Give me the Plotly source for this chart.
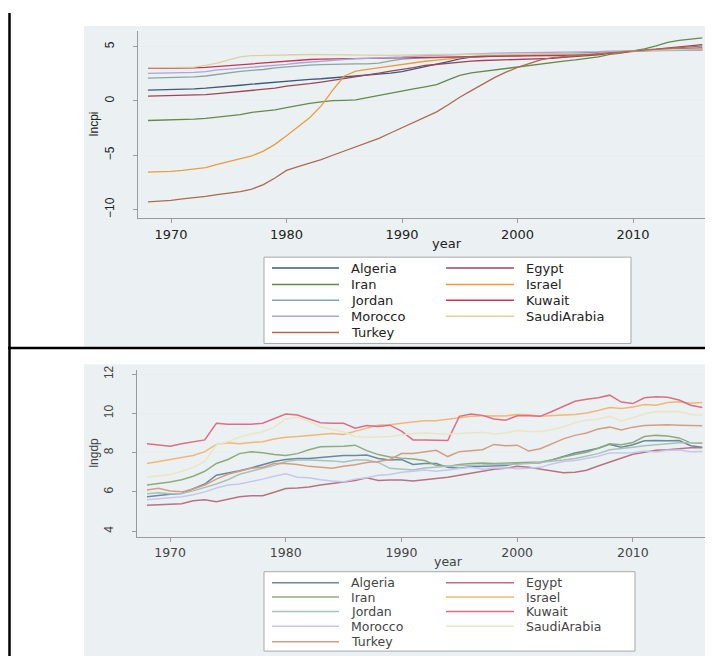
import plotly.graph_objects as go

# ---------------- data ----------------
years = list(range(1968, 2017))
countries = ["Algeria", "Egypt", "Iran", "Israel", "Jordan", "Kuwait",
             "Morocco", "SaudiArabia", "Turkey"]
x_ticks = [1970, 1980, 1990, 2000, 2010]
cpi_ticks = [-10, -5, 0, 5]
gdp_ticks = [4, 6, 8, 10, 12]

# lncpi (top panel), 1968..2016
cpi_algeria = [1.00, 1.02, 1.05, 1.08, 1.12, 1.18, 1.25, 1.35, 1.45, 1.55, 1.65, 1.75, 1.83, 1.93, 1.99, 2.05, 2.13, 2.22, 2.34, 2.41, 2.47, 2.56, 2.71, 2.93, 3.19, 3.38, 3.63, 3.88, 4.04, 4.09, 4.14, 4.17, 4.17, 4.21, 4.23, 4.28, 4.31, 4.33, 4.35, 4.39, 4.43, 4.54, 4.61, 4.65, 4.73, 4.76, 4.79, 4.84, 4.90]
cpi_egypt = [0.45, 0.47, 0.50, 0.52, 0.54, 0.58, 0.67, 0.76, 0.86, 0.98, 1.08, 1.18, 1.36, 1.45, 1.59, 1.74, 1.90, 2.01, 2.21, 2.40, 2.56, 2.75, 2.90, 3.08, 3.27, 3.39, 3.46, 3.61, 3.68, 3.73, 3.77, 3.80, 3.83, 3.85, 3.88, 3.92, 4.03, 4.08, 4.15, 4.24, 4.41, 4.52, 4.61, 4.70, 4.77, 4.86, 4.96, 5.06, 5.19]
cpi_iran = [-1.80, -1.78, -1.76, -1.73, -1.68, -1.60, -1.48, -1.38, -1.25, -1.05, -0.95, -0.82, -0.62, -0.40, -0.22, -0.08, 0.03, 0.06, 0.10, 0.30, 0.52, 0.75, 0.95, 1.12, 1.30, 1.50, 1.95, 2.35, 2.58, 2.72, 2.88, 3.02, 3.15, 3.26, 3.40, 3.54, 3.68, 3.79, 3.90, 4.07, 4.30, 4.40, 4.61, 4.80, 5.07, 5.40, 5.58, 5.72, 5.82]
cpi_israel = [-6.55, -6.53, -6.48, -6.40, -6.30, -6.15, -5.85, -5.60, -5.35, -5.05, -4.62, -4.00, -3.20, -2.35, -1.55, -0.45, 1.00, 2.30, 2.75, 2.92, 3.07, 3.25, 3.40, 3.55, 3.66, 3.77, 3.89, 3.98, 4.08, 4.16, 4.21, 4.26, 4.27, 4.28, 4.34, 4.33, 4.32, 4.34, 4.36, 4.36, 4.41, 4.49, 4.61, 4.64, 4.66, 4.68, 4.68, 4.67, 4.67]
cpi_jordan = [2.10, 2.12, 2.15, 2.18, 2.22, 2.30, 2.45, 2.60, 2.72, 2.82, 2.90, 3.05, 3.15, 3.23, 3.30, 3.35, 3.39, 3.42, 3.42, 3.42, 3.48, 3.70, 3.85, 3.93, 3.97, 4.00, 4.04, 4.06, 4.12, 4.15, 4.18, 4.19, 4.19, 4.21, 4.23, 4.25, 4.28, 4.31, 4.37, 4.42, 4.55, 4.54, 4.61, 4.65, 4.70, 4.75, 4.78, 4.77, 4.76]
cpi_kuwait = [3.00, 3.00, 3.01, 3.03, 3.05, 3.10, 3.18, 3.27, 3.35, 3.45, 3.55, 3.63, 3.70, 3.76, 3.82, 3.85, 3.87, 3.88, 3.89, 3.90, 3.92, 3.94, 3.95, 3.97, 3.99, 4.01, 4.03, 4.06, 4.09, 4.10, 4.11, 4.14, 4.15, 4.17, 4.18, 4.19, 4.20, 4.24, 4.27, 4.32, 4.42, 4.50, 4.61, 4.65, 4.68, 4.71, 4.74, 4.77, 4.80]
cpi_morocco = [2.55, 2.56, 2.57, 2.61, 2.64, 2.70, 2.86, 2.94, 3.02, 3.13, 3.22, 3.29, 3.38, 3.50, 3.59, 3.65, 3.76, 3.83, 3.91, 3.93, 3.95, 3.98, 4.05, 4.12, 4.17, 4.22, 4.27, 4.33, 4.36, 4.37, 4.40, 4.41, 4.43, 4.43, 4.46, 4.47, 4.48, 4.49, 4.52, 4.54, 4.58, 4.59, 4.61, 4.62, 4.63, 4.65, 4.65, 4.67, 4.69]
cpi_saudi = [3.05, 3.06, 3.06, 3.09, 3.12, 3.28, 3.48, 3.78, 4.07, 4.17, 4.20, 4.22, 4.25, 4.27, 4.28, 4.27, 4.25, 4.22, 4.20, 4.18, 4.19, 4.20, 4.22, 4.27, 4.27, 4.28, 4.29, 4.34, 4.35, 4.35, 4.35, 4.34, 4.33, 4.32, 4.32, 4.32, 4.33, 4.34, 4.36, 4.40, 4.49, 4.54, 4.61, 4.66, 4.69, 4.73, 4.75, 4.77, 4.80]
cpi_turkey = [-9.30, -9.24, -9.15, -9.02, -8.92, -8.78, -8.62, -8.50, -8.35, -8.12, -7.70, -7.10, -6.40, -6.05, -5.75, -5.40, -5.00, -4.60, -4.20, -3.85, -3.45, -2.95, -2.45, -1.95, -1.50, -1.00, -0.35, 0.35, 0.95, 1.55, 2.15, 2.65, 3.10, 3.45, 3.78, 4.00, 4.10, 4.19, 4.28, 4.36, 4.46, 4.52, 4.61, 4.67, 4.76, 4.83, 4.91, 4.99, 5.07]

# lngdp (bottom panel), 1968..2016
gdp_algeria = [5.75, 5.82, 5.88, 5.92, 6.15, 6.40, 6.85, 6.95, 7.08, 7.22, 7.38, 7.55, 7.65, 7.70, 7.70, 7.75, 7.80, 7.85, 7.85, 7.88, 7.70, 7.62, 7.65, 7.40, 7.45, 7.45, 7.25, 7.20, 7.28, 7.30, 7.32, 7.35, 7.45, 7.45, 7.48, 7.63, 7.82, 7.98, 8.10, 8.22, 8.42, 8.28, 8.40, 8.60, 8.62, 8.60, 8.62, 8.35, 8.28]
gdp_egypt = [5.32, 5.35, 5.38, 5.40, 5.55, 5.60, 5.50, 5.62, 5.75, 5.80, 5.80, 5.98, 6.17, 6.20, 6.25, 6.35, 6.42, 6.50, 6.58, 6.72, 6.58, 6.60, 6.60, 6.55, 6.60, 6.68, 6.75, 6.85, 6.95, 7.08, 7.15, 7.20, 7.30, 7.25, 7.15, 7.05, 6.98, 7.00, 7.10, 7.32, 7.52, 7.72, 7.92, 8.02, 8.12, 8.15, 8.20, 8.25, 8.25]
gdp_iran = [6.35, 6.42, 6.50, 6.62, 6.80, 7.05, 7.45, 7.65, 7.95, 8.05, 8.00, 7.90, 7.85, 7.95, 8.15, 8.30, 8.30, 8.32, 8.38, 8.10, 7.90, 7.78, 7.72, 7.68, 7.60, 7.35, 7.30, 7.40, 7.45, 7.47, 7.45, 7.47, 7.48, 7.50, 7.52, 7.62, 7.78, 7.90, 8.02, 8.22, 8.45, 8.40, 8.52, 8.82, 8.88, 8.85, 8.75, 8.50, 8.48]
gdp_israel = [7.45, 7.55, 7.62, 7.72, 7.85, 8.05, 8.42, 8.50, 8.45, 8.52, 8.55, 8.70, 8.78, 8.82, 8.88, 8.95, 8.98, 8.92, 9.10, 9.25, 9.40, 9.42, 9.50, 9.57, 9.63, 9.62, 9.70, 9.80, 9.85, 9.88, 9.88, 9.87, 9.95, 9.93, 9.85, 9.87, 9.92, 9.95, 10.02, 10.15, 10.30, 10.25, 10.33, 10.45, 10.42, 10.55, 10.60, 10.52, 10.55]
gdp_jordan = [5.90, 5.95, 5.90, 5.92, 6.05, 6.22, 6.40, 6.62, 6.90, 7.05, 7.20, 7.35, 7.55, 7.62, 7.62, 7.60, 7.58, 7.52, 7.62, 7.62, 7.50, 7.20, 7.15, 7.12, 7.22, 7.25, 7.30, 7.35, 7.35, 7.37, 7.40, 7.40, 7.42, 7.45, 7.50, 7.55, 7.62, 7.70, 7.82, 7.95, 8.15, 8.20, 8.28, 8.35, 8.40, 8.45, 8.50, 8.50, 8.50]
gdp_kuwait = [8.45, 8.40, 8.33, 8.45, 8.55, 8.65, 9.50, 9.45, 9.45, 9.45, 9.50, 9.75, 9.97, 9.92, 9.70, 9.52, 9.50, 9.50, 9.25, 9.38, 9.33, 9.40, 9.10, 8.65, 8.65, 8.65, 8.62, 9.85, 9.97, 9.90, 9.72, 9.65, 9.88, 9.88, 9.85, 10.10, 10.38, 10.62, 10.72, 10.80, 10.93, 10.58, 10.50, 10.80, 10.85, 10.82, 10.68, 10.42, 10.30]
gdp_morocco = [5.60, 5.65, 5.70, 5.75, 5.85, 6.00, 6.20, 6.35, 6.40, 6.52, 6.65, 6.80, 6.92, 6.75, 6.72, 6.62, 6.55, 6.52, 6.65, 6.72, 6.85, 6.88, 7.00, 7.05, 7.12, 7.05, 7.12, 7.20, 7.25, 7.17, 7.22, 7.22, 7.18, 7.20, 7.25, 7.42, 7.55, 7.60, 7.70, 7.82, 7.98, 8.00, 8.00, 8.08, 8.03, 8.12, 8.13, 8.05, 8.06]
gdp_saudi = [6.75, 6.80, 6.88, 7.05, 7.25, 7.55, 8.40, 8.55, 8.80, 8.95, 9.05, 9.30, 9.72, 9.80, 9.60, 9.32, 9.18, 9.05, 8.82, 8.78, 8.80, 8.82, 8.90, 8.98, 9.00, 8.96, 8.94, 8.97, 9.02, 9.04, 8.95, 9.00, 9.13, 9.08, 9.08, 9.17, 9.32, 9.53, 9.65, 9.70, 9.85, 9.62, 9.78, 9.97, 10.10, 10.10, 10.10, 9.95, 9.90]
gdp_turkey = [6.10, 6.18, 6.05, 6.00, 6.15, 6.35, 6.65, 6.90, 7.05, 7.20, 7.25, 7.45, 7.45, 7.40, 7.30, 7.25, 7.20, 7.30, 7.38, 7.50, 7.55, 7.65, 7.95, 7.95, 8.02, 8.12, 7.80, 8.05, 8.10, 8.15, 8.42, 8.35, 8.38, 8.08, 8.20, 8.45, 8.70, 8.88, 9.00, 9.20, 9.30, 9.15, 9.30, 9.38, 9.40, 9.42, 9.40, 9.38, 9.37]

lncpi = {"Algeria": cpi_algeria, "Egypt": cpi_egypt, "Iran": cpi_iran,
         "Israel": cpi_israel, "Jordan": cpi_jordan, "Kuwait": cpi_kuwait,
         "Morocco": cpi_morocco, "SaudiArabia": cpi_saudi, "Turkey": cpi_turkey}
lngdp = {"Algeria": gdp_algeria, "Egypt": gdp_egypt, "Iran": gdp_iran,
         "Israel": gdp_israel, "Jordan": gdp_jordan, "Kuwait": gdp_kuwait,
         "Morocco": gdp_morocco, "SaudiArabia": gdp_saudi, "Turkey": gdp_turkey}

# ---------------- style ----------------
W, H = 713, 656
top_colors = ["#3d5a7c", "#9c4658", "#66884a", "#eb9c3c", "#8aa69e",
              "#c8344f", "#a9a5dc", "#d9d1a2", "#ae6a50"]
bot_colors = ["#6a88a0", "#b87282", "#8fab7a", "#f3b676", "#a6c2bb",
              "#de6d86", "#c8c5ee", "#ebe5c2", "#d59c82"]
REGION = "#ebf1f3"
TXT_FONT = "DejaVu Sans"
ROT_FONT = "Liberation Sans"


def fx(px):
    return px / W


def fy(py):
    return 1 - py / H


fig = go.Figure()
for i, c in enumerate(countries):
    fig.add_trace(go.Scatter(x=years, y=lncpi[c], mode="lines", name=c,
                             line=dict(color=top_colors[i], width=1.3),
                             xaxis="x", yaxis="y", showlegend=False))
for i, c in enumerate(countries):
    fig.add_trace(go.Scatter(x=years, y=lngdp[c], mode="lines", name=c,
                             line=dict(color=bot_colors[i], width=1.5),
                             xaxis="x2", yaxis="y2", showlegend=False))

shapes = []
annotations = []

# graph regions (Stata-like light background)
shapes.append(dict(type="rect", xref="paper", yref="paper", layer="below",
                   x0=fx(76), x1=fx(713), y0=fy(336), y1=fy(13),
                   fillcolor=REGION, line=dict(width=0)))
shapes.append(dict(type="rect", xref="paper", yref="paper", layer="below",
                   x0=fx(76), x1=fx(713), y0=fy(649), y1=fy(354),
                   fillcolor=REGION, line=dict(width=0)))

# table borders
shapes.append(dict(type="line", xref="paper", yref="paper",
                   x0=fx(1.5), x1=fx(1.5), y0=fy(0), y1=fy(651),
                   line=dict(color="black", width=2.5)))
shapes.append(dict(type="line", xref="paper", yref="paper",
                   x0=fx(0), x1=fx(713), y0=fy(337.5), y1=fy(337.5),
                   line=dict(color="black", width=2.5)))
shapes.append(dict(type="line", xref="paper", yref="paper",
                   x0=fx(0), x1=fx(713), y0=fy(650), y1=fy(650),
                   line=dict(color="black", width=2.5)))


def add_legend(box, rows_y, colors, txtcolor, fsize):
    x0, x1, y0, y1 = box
    shapes.append(dict(type="rect", xref="paper", yref="paper",
                       x0=fx(x0), x1=fx(x1), y0=fy(y1), y1=fy(y0),
                       fillcolor="white", line=dict(color="#a8a8a8", width=1)))
    col_line = [(264, 331), (438, 506)]
    col_text = [341, 516]
    for k, c in enumerate(countries):
        r, col = k // 2, k % 2
        yy = rows_y[r]
        shapes.append(dict(type="line", xref="paper", yref="paper",
                           x0=fx(col_line[col][0]), x1=fx(col_line[col][1]),
                           y0=fy(yy), y1=fy(yy),
                           line=dict(color=colors[k], width=1.5)))
        annotations.append(dict(xref="paper", yref="paper", x=fx(col_text[col]),
                                y=fy(yy), text=c, showarrow=False,
                                xanchor="left", yanchor="middle",
                                font=dict(family=TXT_FONT, size=fsize, color=txtcolor)))


add_legend((256, 623, 246, 333), [257, 273.5, 289.5, 305.5, 322],
           top_colors, "#222222", 13)
add_legend((256, 627, 563, 643), [574, 588.5, 603, 618, 633.5],
           bot_colors, "#444444", 12.5)

# axis titles
annotations.append(dict(xref="paper", yref="paper", x=fx(86), y=fy(112),
                        text="lncpi", textangle=-90, showarrow=False,
                        xanchor="center", yanchor="middle",
                        font=dict(family=ROT_FONT, size=12, color="#222")))
annotations.append(dict(xref="paper", yref="paper", x=fx(439), y=fy(232),
                        text="year", showarrow=False,
                        xanchor="center", yanchor="middle",
                        font=dict(family=TXT_FONT, size=13, color="#222")))
annotations.append(dict(xref="paper", yref="paper", x=fx(86), y=fy(443),
                        text="lngdp", textangle=-90, showarrow=False,
                        xanchor="center", yanchor="middle",
                        font=dict(family=ROT_FONT, size=12, color="#444")))
annotations.append(dict(xref="paper", yref="paper", x=fx(440), y=fy(553),
                        text="year", showarrow=False,
                        xanchor="center", yanchor="middle",
                        font=dict(family=TXT_FONT, size=12.5, color="#444")))

xr = [1967.14, 2017.62]
cpi_range = [-10.82, 6.46]
gdp_range = [3.70, 12.2]
axis_line = "#9a9a9a"
common_x = dict(range=xr, tickvals=x_ticks, ticks="outside", ticklen=4,
                tickcolor=axis_line, showline=True, linecolor=axis_line,
                linewidth=1, showgrid=False, zeroline=False)
# major ticks are invisible (they only push the rotated labels outward);
# the visible short tick marks are drawn as minor ticks at the same values
common_y = dict(ticks="outside", ticklen=18, tickcolor="rgba(0,0,0,0)",
                tickangle=-90, showline=True, linecolor=axis_line, linewidth=1,
                showgrid=True, gridcolor="#e7eef0", gridwidth=1, zeroline=False)

fig.update_layout(
    width=W, height=H,
    margin=dict(l=0, r=0, t=0, b=0),
    paper_bgcolor="white", plot_bgcolor="white",
    showlegend=False,
    xaxis=dict(domain=[fx(130), 1.0], anchor="y",
               tickfont=dict(family=TXT_FONT, size=13, color="#222"), **common_x),
    yaxis=dict(domain=[fy(207), fy(18)], anchor="x", range=cpi_range,
               tickvals=cpi_ticks,
               minor=dict(tickmode="array", tickvals=cpi_ticks, ticks="outside",
                          ticklen=4, tickcolor=axis_line, showgrid=False),
               tickfont=dict(family=ROT_FONT, size=12, color="#222"), **common_y),
    xaxis2=dict(domain=[fx(129), 1.0], anchor="y2",
                tickfont=dict(family=TXT_FONT, size=12.5, color="#444"), **common_x),
    yaxis2=dict(domain=[fy(528), fy(360)], anchor="x2", range=gdp_range,
                tickvals=gdp_ticks,
                minor=dict(tickmode="array", tickvals=gdp_ticks, ticks="outside",
                           ticklen=4, tickcolor=axis_line, showgrid=False),
                tickfont=dict(family=ROT_FONT, size=12, color="#444"), **common_y),
    shapes=shapes,
    annotations=annotations,
)

fig.write_html("out.html")
